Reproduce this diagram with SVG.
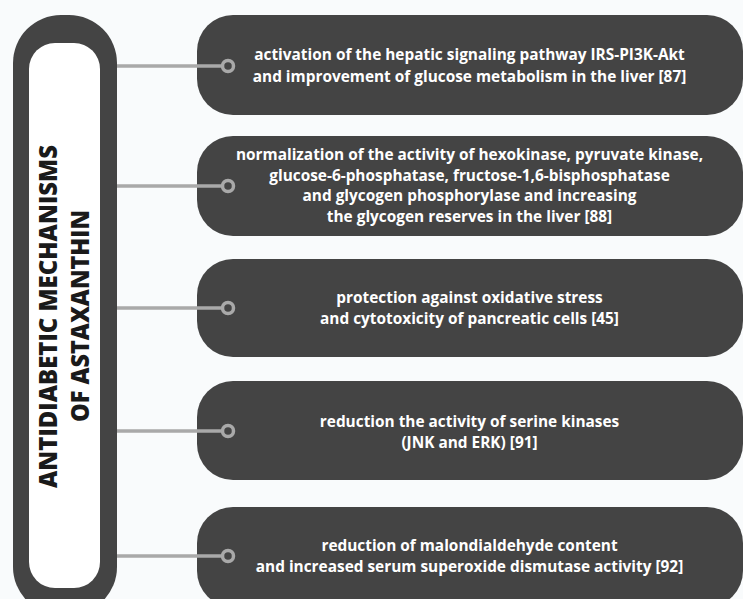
<svg xmlns="http://www.w3.org/2000/svg" width="743" height="599" viewBox="0 0 743 599">
<style>
.box{fill:#444444;}
.lbl{font-family:"Open Sans","Liberation Sans",sans-serif;font-weight:bold;font-size:15.4px;fill:#ffffff;text-anchor:middle;}
.title{font-family:"Open Sans","Liberation Sans",sans-serif;font-weight:800;font-size:24px;fill:#1a1a1a;text-anchor:middle;}
.conn line{stroke:#a9a9a9;stroke-width:3.5;}
.conn circle{stroke:#a9a9a9;stroke-width:3.5;fill:#444444;}
</style>
<rect width="743" height="599" fill="#f9fbfc"/>
<g id="title">
<rect x="13" y="15" width="104" height="600" rx="48" fill="#444444"/>
<rect x="29" y="43" width="71" height="545" rx="26" fill="#ffffff"/>
<text class="title" transform="translate(57,316.5) rotate(-90)" textLength="343" lengthAdjust="spacingAndGlyphs">ANTIDIABETIC MECHANISMS</text>
<text class="title" transform="translate(89,316) rotate(-90)" textLength="212" lengthAdjust="spacingAndGlyphs">OF ASTAXANTHIN</text>
</g>
<g id="n1">
<rect class="box" x="197" y="15" width="546" height="100" rx="36"/>
<text class="lbl" x="469.5" y="60">activation of the hepatic signaling pathway IRS-PI3K-Akt</text>
<text class="lbl" x="469.5" y="82">and improvement of glucose metabolism in the liver [87]</text>
</g>
<g id="n2">
<rect class="box" x="197" y="136" width="546" height="100" rx="36"/>
<text class="lbl" x="469.5" y="160">normalization of the activity of hexokinase, pyruvate kinase,</text>
<text class="lbl" x="469.5" y="181">glucose-6-phosphatase, fructose-1,6-bisphosphatase</text>
<text class="lbl" x="469.5" y="201">and glycogen phosphorylase and increasing</text>
<text class="lbl" x="469.5" y="222">the glycogen reserves in the liver [88]</text>
</g>
<g id="n3">
<rect class="box" x="197" y="259" width="546" height="98" rx="36"/>
<text class="lbl" x="469.5" y="303">protection against oxidative stress</text>
<text class="lbl" x="469.5" y="324">and cytotoxicity of pancreatic cells [45]</text>
</g>
<g id="n4">
<rect class="box" x="197" y="381" width="546" height="99" rx="36"/>
<text class="lbl" x="469.5" y="427">reduction the activity of serine kinases</text>
<text class="lbl" x="469.5" y="448">(JNK and ERK) [91]</text>
</g>
<g id="n5">
<rect class="box" x="197" y="507" width="546" height="100" rx="36"/>
<text class="lbl" x="469.5" y="551">reduction of malondialdehyde content</text>
<text class="lbl" x="469.5" y="572">and increased serum superoxide dismutase activity [92]</text>
</g>
<g id="connectors" class="conn">
<line x1="117" y1="66" x2="223" y2="66"/>
<line x1="117" y1="186" x2="223" y2="186"/>
<line x1="117" y1="308" x2="223" y2="308"/>
<line x1="117" y1="431" x2="223" y2="431"/>
<line x1="117" y1="556" x2="223" y2="556"/>
<circle cx="228" cy="66" r="5.5"/>
<circle cx="228" cy="186" r="5.5"/>
<circle cx="228" cy="308" r="5.5"/>
<circle cx="228" cy="431" r="5.5"/>
<circle cx="228" cy="556" r="5.5"/>
</g>
</svg>
